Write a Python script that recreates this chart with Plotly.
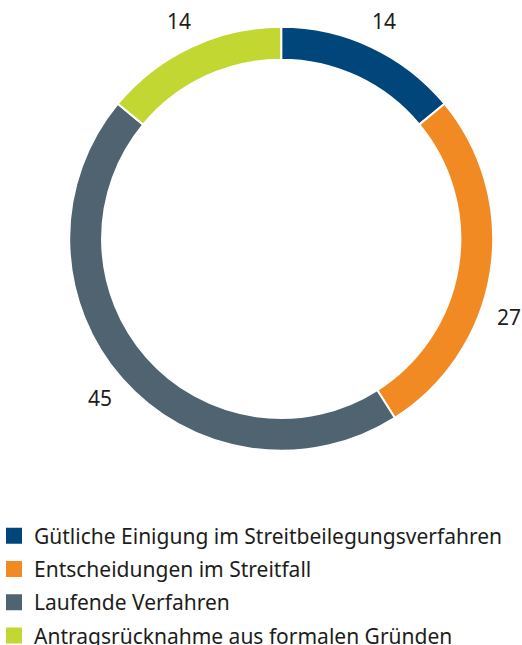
import math
import plotly.graph_objects as go

labels = [
    "Gütliche Einigung im Streitbeilegungsverfahren",
    "Entscheidungen im Streitfall",
    "Laufende Verfahren",
    "Antragsrücknahme aus formalen Gründen",
]
values = [14, 27, 45, 14]
colors = ["#00467A", "#F28A24", "#4F6370", "#C2D731"]

W, H = 522, 645
CX, CY, R = 281.2, 238.8, 212.0  # pie centre / radius in px
FONT = "Noto Sans"
TXT = "#1d1d1b"

fig = go.Figure()
fig.add_trace(go.Pie(
    labels=labels, values=values, sort=False, direction="clockwise", rotation=0,
    hole=0.845, marker=dict(colors=colors, line=dict(color="white", width=2)),
    textinfo="none", hoverinfo="label+value", showlegend=False,
    domain=dict(x=[(CX - R) / W, (CX + R) / W], y=[1 - (CY + R) / H, 1 - (CY - R) / H]),
))

# legend entries
for i, (lab, col) in enumerate(zip(labels, colors)):
    fig.add_trace(go.Scatter(
        x=[None], y=[None], mode="markers", name=lab, legendgroup=f"g{i}",
        marker=dict(symbol="square", size=16, color=col, line=dict(width=0)),
        showlegend=True,
    ))

# outside value labels
total = sum(values)
cum = 0
LR = 241.0
annotations = []
for v in values:
    mid = (cum + v / 2) / total * 2 * math.pi
    cum += v
    maxdx = W - 13 - CX
    s = math.sin(mid)
    if abs(LR * s) > maxdx:
        a = math.asin(maxdx / LR)
        if s > 0:
            mid = a if math.cos(mid) > 0 else math.pi - a
        else:
            mid = (2 * math.pi - a) if math.cos(mid) > 0 else math.pi + a
    px = CX + LR * math.sin(mid)
    py = CY - LR * math.cos(mid)
    annotations.append(dict(
        x=px / W, y=1 - py / H, xref="paper", yref="paper", text=str(v),
        showarrow=False, xanchor="center", yanchor="middle",
        font=dict(family=FONT, size=21, color=TXT),
    ))

fig.update_layout(
    width=W, height=H, margin=dict(l=0, r=0, t=0, b=0, autoexpand=False),
    paper_bgcolor="white", plot_bgcolor="white",
    xaxis=dict(visible=False), yaxis=dict(visible=False),
    annotations=annotations,
    legend=dict(
        x=-6 / W, y=1 - 515.5 / H, xanchor="left", yanchor="top",
        font=dict(family=FONT, size=21, color=TXT),
        itemsizing="trace", tracegroupgap=3, itemwidth=30,
        bgcolor="rgba(0,0,0,0)", borderwidth=0,
    ),
    showlegend=True,
)

fig.write_html("out.html", config={"displayModeBar": False},
               post_script="document.body.style.margin='0px';")
